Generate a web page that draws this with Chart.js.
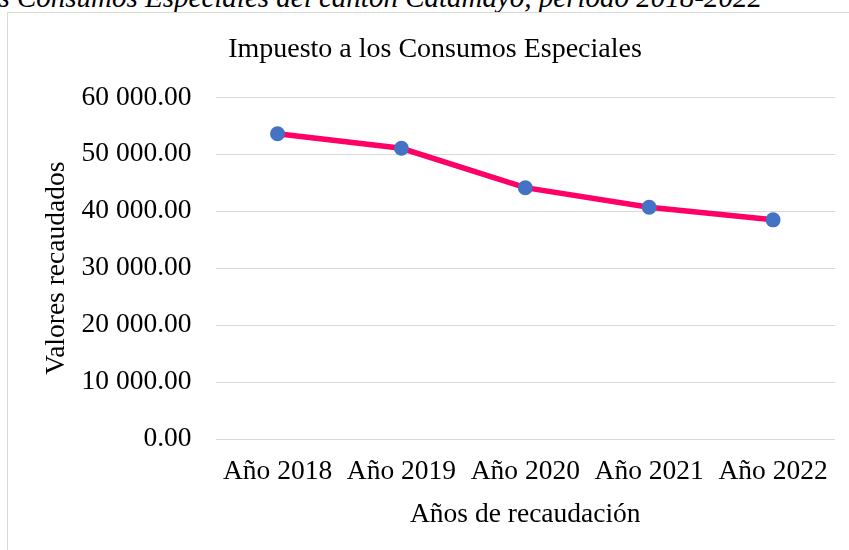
<!DOCTYPE html>
<html>
<head>
<meta charset="utf-8">
<script src="https://cdn.jsdelivr.net/npm/chart.js@4"></script>
<style>
  html, body { margin: 0; padding: 0; background: #fff; overflow: hidden; width: 849px; height: 550px; }
  #caption {
    position: absolute; right: 87px; top: -17px;
    font: italic 29px "Liberation Serif", "Times New Roman", serif;
    line-height: 29px; white-space: nowrap; color: #000;
  }
  #frame {
    position: absolute; left: 7px; top: 12px; width: 900px; height: 600px;
    border: 1px solid #d9d9d9; background: #fff;
  }
  #chart { position: absolute; left: 0; top: 0; }
</style>
</head>
<body>
<div id="caption">Impuesto a los Consumos Especiales del cantón Catamayo, período 2018-2022</div>
<div id="frame"><canvas id="chart" width="841" height="537"></canvas></div>
<script>
const years = ['Año 2018', 'Año 2019', 'Año 2020', 'Año 2021', 'Año 2022'];
const collected = [53600, 51050, 44130, 40700, 38480];
const yTicks = [0, 10000, 20000, 30000, 40000, 50000, 60000];

const serif = '"Liberation Serif", "Times New Roman", serif';

// 60000 -> "60 000.00"
const fmt = (v) => {
    const parts = Number(v).toFixed(2).split('.');
    return parts[0].replace(/\B(?=(\d{3})+(?!\d))/g, ' ') + '.' + parts[1];
};

const ctx = document.getElementById('chart').getContext('2d');

new Chart(ctx, {
    type: 'line',
    data: {
        labels: years,
        datasets: [{
            label: 'Impuesto a los Consumos Especiales',
            data: collected,
            borderColor: '#ff0066',
            borderWidth: 5.5,
            backgroundColor: '#4472c4',
            pointBackgroundColor: '#4472c4',
            pointBorderColor: '#4472c4',
            pointRadius: 7.5,
            pointBorderWidth: 0,
            tension: 0,
            fill: false
        }]
    },
    options: {
        responsive: false,
        animation: false,
        layout: { padding: { left: 27, right: 14, top: 0, bottom: 0 } },
        plugins: {
            legend: { display: false },
            tooltip: { enabled: false },
            title: {
                display: true,
                text: 'Impuesto a los Consumos Especiales',
                color: '#000',
                font: { family: serif, size: 28, weight: 'normal' },
                padding: { top: 20, bottom: 30.7 }
            }
        },
        scales: {
            x: {
                offset: true,
                grid: { display: false, drawTicks: false },
                border: { display: false },
                ticks: {
                    color: '#000',
                    padding: 16.5,
                    maxRotation: 0,
                    font: { family: serif, size: 27.5 }
                },
                title: {
                    display: true,
                    text: 'Años de recaudación',
                    color: '#000',
                    font: { family: serif, size: 27.5 },
                    padding: { top: -7, bottom: 19 }
                }
            },
            y: {
                min: 0,
                max: 60000,
                afterBuildTicks: (axis) => { axis.ticks = yTicks.map((v) => ({ value: v })); },
                grid: { color: '#d9d9d9', lineWidth: 1, drawTicks: false },
                border: { display: false },
                ticks: {
                    color: '#000',
                    padding: 24,
                    font: { family: serif, size: 27.5 },
                    callback: (v) => fmt(v)
                },
                title: {
                    display: true,
                    text: 'Valores recaudados',
                    color: '#000',
                    font: { family: serif, size: 27.5 },
                    padding: { top: 4.8, bottom: -15.2 }
                }
            }
        }
    }
});
</script>
</body>
</html>
